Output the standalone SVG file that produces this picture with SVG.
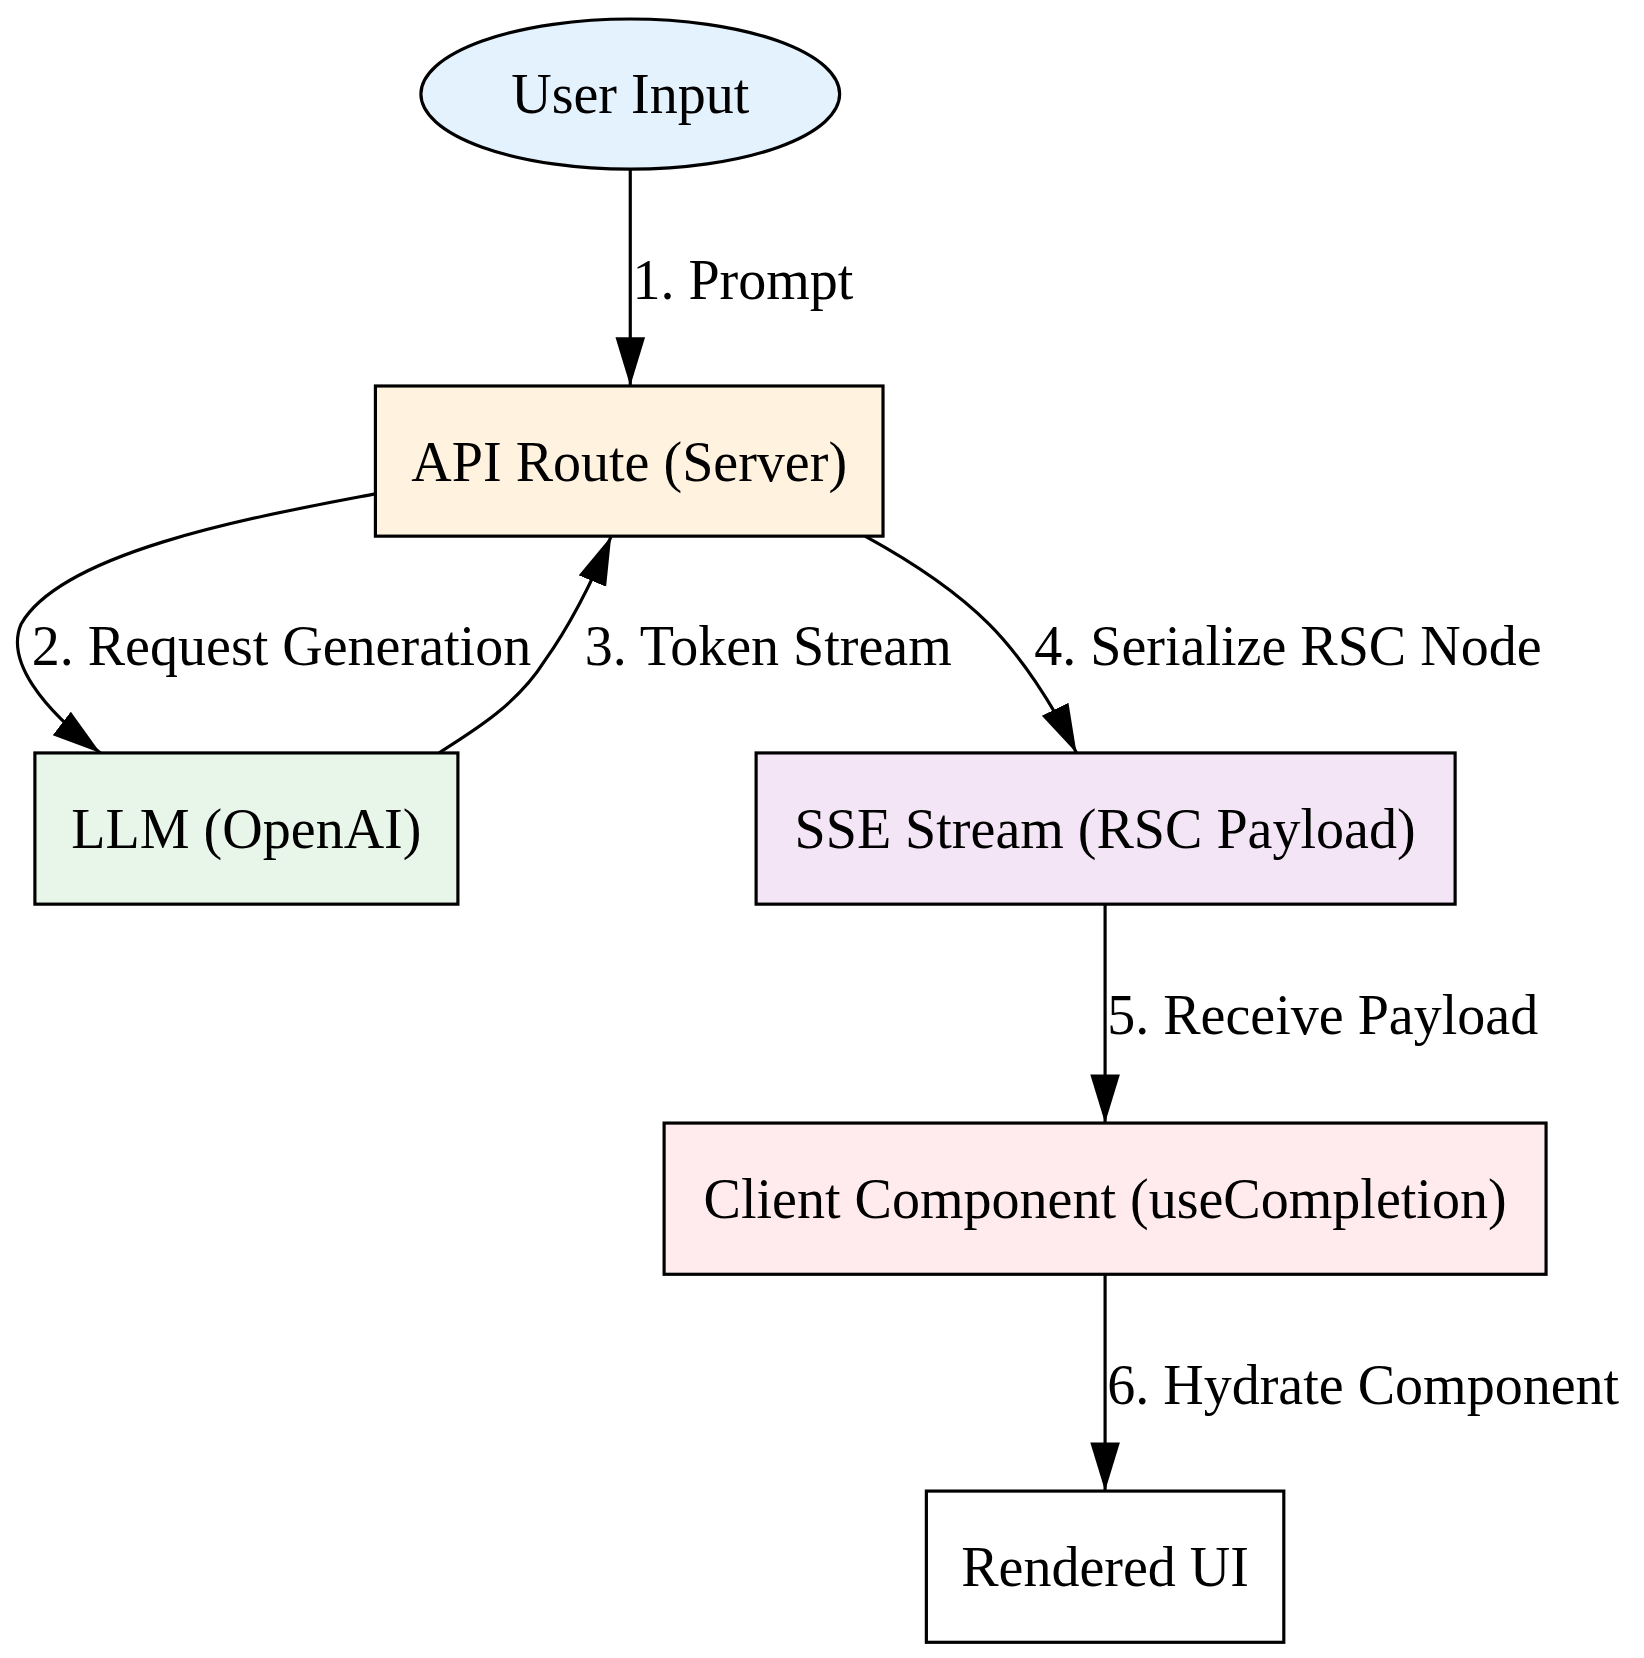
<svg xmlns="http://www.w3.org/2000/svg" width="1644" height="1658" viewBox="0 0 1644 1658">
<style>
.n{stroke:#000;stroke-width:3}
.t{font-family:"Liberation Serif",serif;font-size:53px;fill:#000;text-anchor:middle}
.l{font-family:"Liberation Serif",serif;font-size:53px;fill:#000}
.e{fill:none;stroke:#000;stroke-width:3;marker-end:url(#a)}
</style>
<defs>
<marker id="a" markerUnits="userSpaceOnUse" markerWidth="48" markerHeight="30" refX="46" refY="14" orient="auto">
<path d="M0,0 L46,14 L0,28 Z" fill="#000"/>
</marker>
</defs>
<rect width="1644" height="1658" fill="#fff"/>
<g transform="scale(1.0575)">
<g id="edges">
<path class="e" d="M596,160 L596,365"/>
<path class="e" d="M355,467 C250,487 60,520 20,590 C5,625 40,670 95,712"/>
<path class="e" d="M415,712 C450,690 490,665 515,625 C540,590 560,550 578,507"/>
<path class="e" d="M818,507 C860,530 905,560 935,590 C965,620 995,665 1018,712"/>
<path class="e" d="M1045,855 L1045,1062"/>
<path class="e" d="M1045,1205 L1045,1410"/>
<text class="l" x="598" y="283">1. Prompt</text>
<text class="l" x="30" y="629">2. Request Generation</text>
<text class="l" x="553" y="629">3. Token Stream</text>
<text class="l" x="978" y="629">4. Serialize RSC Node</text>
<text class="l" x="1047" y="978">5. Receive Payload</text>
<text class="l" x="1047" y="1328">6. Hydrate Component</text>
</g>
<g id="user"><ellipse class="n" cx="596" cy="89" rx="198" ry="71" fill="#e3f2fd"/><text class="t" x="596" y="107">User Input</text></g>
<g id="api"><rect class="n" x="355" y="365" width="480" height="142" fill="#fff3e0"/><text class="t" x="595" y="455">API Route (Server)</text></g>
<g id="llm"><rect class="n" x="33" y="712" width="400" height="143" fill="#e8f5e9"/><text class="t" x="233" y="802">LLM (OpenAI)</text></g>
<g id="sse"><rect class="n" x="715" y="712" width="661" height="143" fill="#f3e5f5"/><text class="t" x="1045" y="802">SSE Stream (RSC Payload)</text></g>
<g id="client"><rect class="n" x="628" y="1062" width="834" height="143" fill="#ffebee"/><text class="t" x="1045" y="1152">Client Component (useCompletion)</text></g>
<g id="ui"><rect class="n" x="876" y="1410" width="338" height="143" fill="#fff"/><text class="t" x="1045" y="1500">Rendered UI</text></g>
</g>
</svg>
